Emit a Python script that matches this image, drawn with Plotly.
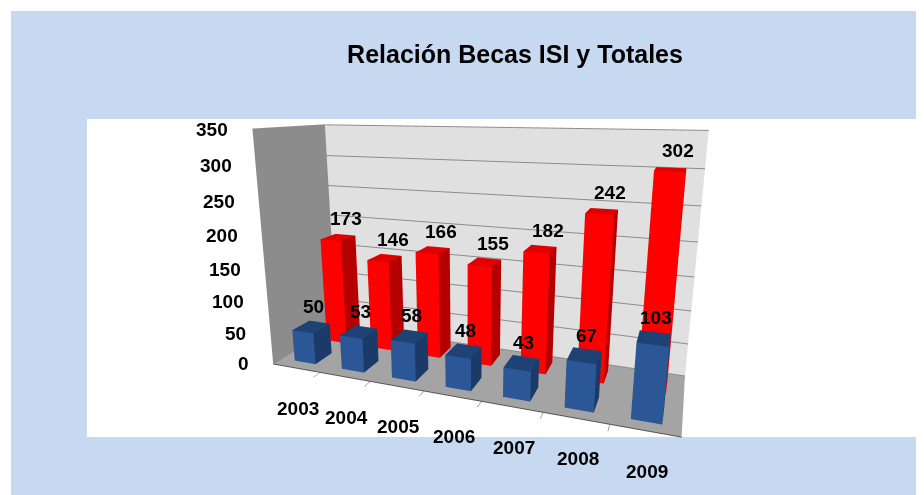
import plotly.graph_objects as go

years = ["2003", "2004", "2005", "2006", "2007", "2008", "2009"]
isi = [50, 53, 58, 48, 43, 67, 103]
totales = [173, 146, 166, 155, 182, 242, 302]
z_ticks = [0, 50, 100, 150, 200, 250, 300, 350]
title_text = "Relación Becas ISI y Totales"

FONT = "Liberation Sans, Arial, sans-serif"
W, H = 924, 495
OFF = 8  # page body margin


def px(x):
    return (x - OFF) / W


def py(y):
    return 1 - (y - OFF) / H


def bars_mesh(values, row, c_front, c_side, c_top, w=0.45, d=0.5):
    X, Y, Z, I, J, K, FC = [], [], [], [], [], [], []
    for idx, v in enumerate(values):
        x0, x1 = idx - w / 2, idx + w / 2
        y0, y1 = row - d / 2, row + d / 2
        base = len(X)
        X += [x0, x1, x1, x0, x0, x1, x1, x0]
        Y += [y0, y0, y1, y1, y0, y0, y1, y1]
        Z += [0, 0, 0, 0, v, v, v, v]
        faces = [
            ((0, 1, 2), c_front), ((0, 2, 3), c_front),      # bottom
            ((4, 5, 6), c_top), ((4, 6, 7), c_top),          # top
            ((0, 1, 5), c_front), ((0, 5, 4), c_front),      # front
            ((3, 2, 6), c_front), ((3, 6, 7), c_front),      # back
            ((0, 3, 7), c_side), ((0, 7, 4), c_side),        # left
            ((1, 2, 6), c_side), ((1, 6, 5), c_side),        # right
        ]
        for (a, b, c), col in faces:
            I.append(base + a); J.append(base + b); K.append(base + c); FC.append(col)
    return go.Mesh3d(x=X, y=Y, z=Z, i=I, j=J, k=K, facecolor=FC, flatshading=True,
                     lighting=dict(ambient=1, diffuse=0, specular=0, roughness=1, fresnel=0),
                     hoverinfo="skip", showscale=False)


fig = go.Figure()
fig.add_trace(bars_mesh(totales, 1, "#ff0000", "#b40000", "#e00000"))
fig.add_trace(bars_mesh(isi, 0, "#2b5796", "#1b3a68", "#1f4274"))

ann = []
lab_font = dict(family=FONT, size=19, color="black", weight="bold")
for i, v in enumerate(totales):
    ann.append(dict(x=i, y=1, z=v, text=str(v), showarrow=False, yanchor="bottom",
                    yshift=6, xshift=8, font=lab_font))
for i, v in enumerate(isi):
    ann.append(dict(x=i, y=0, z=v, text=str(v), showarrow=False, yanchor="bottom",
                    yshift=8, xshift=2, font=lab_font))
for i, y in enumerate(years):
    ann.append(dict(x=i, y=-0.5, z=0, text=y, showarrow=False, yanchor="top",
                    yshift=-28, xshift=2, font=lab_font))
for t in z_ticks:
    ann.append(dict(x=-0.5, y=-0.5, z=t, text=str(t), showarrow=False, xanchor="right",
                    xshift=-22, font=lab_font))

axis_common = dict(showticklabels=False, showspikes=False, zeroline=False,
                   title=dict(text=""))

fig.update_layout(
    width=W, height=H,
    margin=dict(l=0, r=0, t=0, b=0),
    paper_bgcolor="white",
    showlegend=False,
    title=dict(text=title_text, x=px(515), xanchor="center", y=py(54), yanchor="middle",
               font=dict(family=FONT, size=25, color="black", weight="bold")),
    shapes=[
        dict(type="rect", xref="paper", yref="paper", x0=px(11), x1=1, y0=0, y1=py(11),
             fillcolor="#c6d9f0", line=dict(width=0), layer="below"),
        dict(type="rect", xref="paper", yref="paper", x0=px(87), x1=1, y0=py(437), y1=py(119),
             fillcolor="white", line=dict(width=0), layer="below"),
    ],
    scene=dict(
        domain=dict(x=[0, 1], y=[0, 1]),
        bgcolor="rgba(0,0,0,0)",
        xaxis=dict(range=[-0.5, 6.5], showgrid=False, showbackground=True,
                   backgroundcolor="#8c8c8c", showline=True, linecolor="#555555",
                   linewidth=2, ticks="outside", tickvals=[0.5, 1.5, 2.5, 3.5, 4.5, 5.5],
                   ticklen=6, tickcolor="#555555", **axis_common),
        yaxis=dict(range=[-0.5, 1.5], showgrid=False, showbackground=True,
                   backgroundcolor="#e0e0e0", ticks="", showline=False, **axis_common),
        zaxis=dict(range=[0, 350], dtick=50, tick0=0, showgrid=True, gridcolor="#8c8c8c",
                   showbackground=True, backgroundcolor="#a4a4a4", ticks="", showline=False,
                   **axis_common),
        aspectmode="manual",
        aspectratio=dict(x=1.68, y=0.5, z=1.0),
        camera=dict(eye=dict(x=0.8, y=-2.2, z=0.6), center=dict(x=-0.02, y=0, z=0.0),
                    up=dict(x=0, y=0, z=1)),
        annotations=ann,
    ),
)

fig.write_html("out.html")
